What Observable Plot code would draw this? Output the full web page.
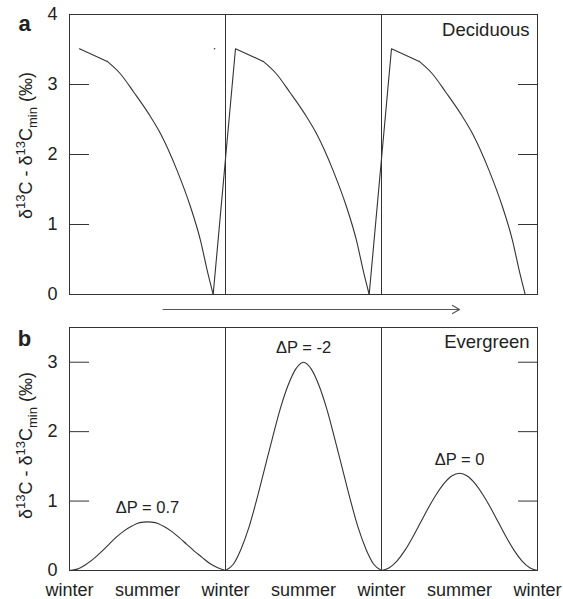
<!DOCTYPE html>
<html><head><meta charset="utf-8">
<script src="https://cdn.jsdelivr.net/npm/d3@7"></script>
<script src="https://cdn.jsdelivr.net/npm/@observablehq/plot@0.6"></script>
<style>body{margin:0;background:#fff} #chart svg{display:block}</style>
</head><body><div id="chart"></div>
<script>
// ---- data ----
const years = [0, 1, 2];
// (a) Deciduous: phase within each year and δ13C - δ13Cmin (‰)
const decidPhase = [0.064, 0.242, 0.327, 0.412, 0.508, 0.583, 0.690, 0.776, 0.840, 0.883, 0.921];
const decidValue = [3.51, 3.33, 3.15, 2.89, 2.58, 2.30, 1.77, 1.25, 0.77, 0.34, 0];
const strayMark = [{x: 0.93, y: 3.51}];
// (b) Evergreen: phase within each year and δ13C - δ13Cmin (‰)
const everPhase = [0, 0.05, 0.10, 0.15, 0.20, 0.25, 0.30, 0.35, 0.40, 0.45, 0.50, 0.55, 0.60, 0.65, 0.70, 0.75, 0.80, 0.85, 0.90, 0.95, 1.0];
const everYear1 = [0, 0.02, 0.08, 0.16, 0.26, 0.37, 0.48, 0.57, 0.64, 0.69, 0.70, 0.69, 0.64, 0.57, 0.48, 0.38, 0.28, 0.19, 0.10, 0.04, 0];
const everYear2 = [0, 0.09, 0.31, 0.62, 1.02, 1.46, 1.90, 2.32, 2.66, 2.90, 3.00, 2.90, 2.66, 2.32, 1.90, 1.46, 1.02, 0.62, 0.31, 0.09, 0];
const everYear3 = [0, 0.04, 0.14, 0.29, 0.48, 0.69, 0.90, 1.09, 1.25, 1.36, 1.40, 1.36, 1.25, 1.09, 0.90, 0.69, 0.48, 0.29, 0.14, 0.04, 0];
const peakLabels = ["ΔP = 0.7", "ΔP = -2", "ΔP = 0"];
const seasonTicks = [0, 0.5, 1, 1.5, 2, 2.5, 3];
const seasonLabels = ["winter", "summer", "winter", "summer", "winter", "summer", "winter"];
const yTicksA = [0, 1, 2, 3, 4];
const yTicksB = [0, 1, 2, 3];
const innerTicks = [1, 2, 3];
const yearDividers = [1, 2];
const arrowSpan = [0.6, 2.5];
const yLabel = "δ13C - δ13Cmin (‰)";

// ---- tables ----
const last = decidPhase.length - 1;
// curved part: from the knee down to zero
const decidFall = years.flatMap(k => decidPhase.slice(1).map((p, i) => ({x: k + p, y: decidValue[i + 1], year: k})));
// straight part: previous zero (if any) -> spring peak -> knee
const decidStraight = years.flatMap(k => [
  ...(k > 0 ? [{x: k - 1 + decidPhase[last], y: decidValue[last], year: k}] : []),
  {x: k + decidPhase[0], y: decidValue[0], year: k},
  {x: k + decidPhase[1], y: decidValue[1], year: k}
]);
const everSeries = [everYear1, everYear2, everYear3];
const everData = years.flatMap(k => everPhase.map((p, i) => ({x: k + p, y: everSeries[k][i], year: k})));
const peaks = years.map(k => {
  const v = everSeries[k];
  const i = v.indexOf(d3.max(v));
  return {x: k + everPhase[i], y: v[i], label: peakLabels[k]};
});

const ink = "#333";
const font = "'Liberation Sans', Arial, Helvetica, sans-serif";

function richLabel(svg) {
  d3.select(svg).selectAll("text").filter(function () { return this.textContent === yLabel; }).each(function () {
    const t = d3.select(this);
    t.text("");
    const parts = [["δ", 0], ["13", 1], ["C - δ", 0], ["13", 1], ["C", 0], ["min", -1], [" (‰)", 0]];
    let shift = 0;
    for (const [s, k] of parts) {
      const target = k === 1 ? -7 : k === -1 ? 5 : 0;
      const ts = t.append("tspan").attr("dy", target - shift).text(s);
      if (k) ts.attr("font-size", "13px");
      shift = target;
    }
  });
}

const common = {
  width: 563, marginLeft: 69, marginRight: 26,
  style: {fontFamily: font, fontSize: "18px", color: "#222", background: "white", overflow: "visible"}
};

const A = Plot.plot({
  ...common, height: 318, marginTop: 14, marginBottom: 24,
  x: {domain: [0, 3], axis: null},
  y: {domain: [0, 4], axis: null},
  marks: [
    Plot.frame({stroke: ink}),
    Plot.ruleX(yearDividers, {stroke: ink}),
    Plot.axisY(yTicksA, {anchor: "left", tickSize: 0, tickPadding: 12, label: null, fontSize: 18, tickFormat: d => String(d)}),
    Plot.axisY(innerTicks, {anchor: "left", tickSize: -20, fill: "none", stroke: ink}),
    Plot.axisY(innerTicks, {anchor: "right", tickSize: -20, fill: "none", stroke: ink}),
    Plot.line(decidFall, {x: "x", y: "y", z: "year", stroke: ink, strokeWidth: 1.1, curve: "monotone-x"}),
    Plot.line(decidStraight, {x: "x", y: "y", z: "year", stroke: ink, strokeWidth: 1.1}),
    Plot.dot(strayMark, {x: "x", y: "y", r: 0.8, fill: ink, stroke: null}),
    Plot.arrow([{x1: arrowSpan[0], x2: arrowSpan[1]}], {x1: "x1", x2: "x2", y1: 0, y2: 0, dy: 15, stroke: "#555", strokeWidth: 1.2, headLength: 10, bend: 0}),
    Plot.text(["Deciduous"], {text: d => d, frameAnchor: "top-right", dx: -8, dy: 15.5, lineAnchor: "middle", textAnchor: "end", fontSize: 18.5}),
    Plot.text(["a"], {text: d => d, frameAnchor: "top-left", dx: -45, dy: 9, lineAnchor: "middle", textAnchor: "middle", fontSize: 22, fontWeight: "bold"}),
    Plot.text([yLabel], {text: d => d, frameAnchor: "left", dx: -43, dy: -9, rotate: -90, lineAnchor: "middle", textAnchor: "middle", fontSize: 18})
  ]
});
richLabel(A);

const B = Plot.plot({
  ...common, height: 281, marginTop: 9, marginBottom: 29,
  x: {domain: [0, 3]},
  y: {domain: [0, 3.5], axis: null},
  marks: [
    Plot.frame({stroke: ink}),
    Plot.ruleX(yearDividers, {stroke: ink}),
    Plot.axisY(yTicksB, {anchor: "left", tickSize: 0, tickPadding: 12, label: null, fontSize: 18, tickFormat: d => String(d)}),
    Plot.axisY(innerTicks, {anchor: "left", tickSize: -20, fill: "none", stroke: ink}),
    Plot.axisY(innerTicks, {anchor: "right", tickSize: -20, fill: "none", stroke: ink}),
    Plot.axisX(seasonTicks, {anchor: "bottom", tickSize: 0, tickPadding: 13, label: null, fontSize: 18,
      tickFormat: d => seasonLabels[seasonTicks.indexOf(d)]}),
    Plot.line(everData, {x: "x", y: "y", z: "year", stroke: ink, strokeWidth: 1.1, curve: "monotone-x"}),
    Plot.text(peaks, {x: "x", y: "y", text: "label", dy: -14, lineAnchor: "middle", fontSize: 16.5}),
    Plot.text(["Evergreen"], {text: d => d, frameAnchor: "top-right", dx: -8, dy: 15, lineAnchor: "middle", textAnchor: "end", fontSize: 18.5}),
    Plot.text(["b"], {text: d => d, frameAnchor: "top-left", dx: -45, dy: 11, lineAnchor: "middle", textAnchor: "middle", fontSize: 22, fontWeight: "bold"}),
    Plot.text([yLabel], {text: d => d, frameAnchor: "left", dx: -43, dy: -3.5, rotate: -90, lineAnchor: "middle", textAnchor: "middle", fontSize: 18})
  ]
});
richLabel(B);

document.getElementById("chart").append(A, B);
</script>
</body></html>
